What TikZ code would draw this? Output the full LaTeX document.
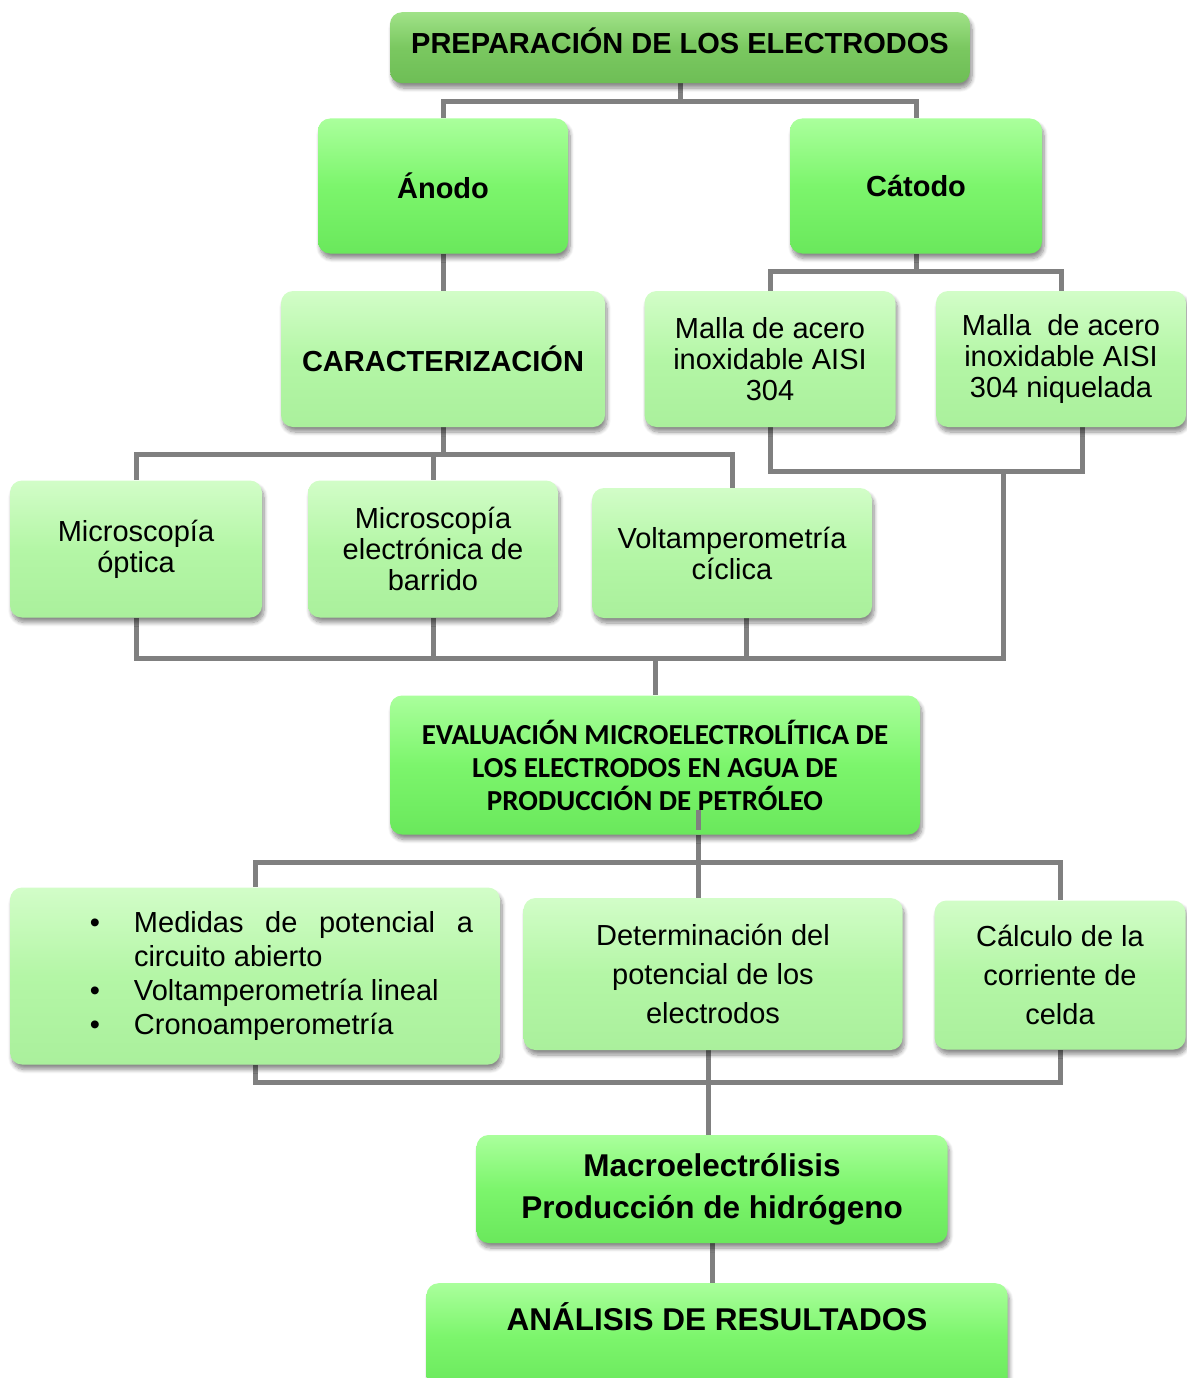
\documentclass[tikz,border=0pt]{standalone}
\usepackage{fontspec}
\setmainfont{Liberation Sans}
\newfontfamily\calibri{Carlito}
\usetikzlibrary{shadows.blur,backgrounds}

\definecolor{darktop}{RGB}{160,226,136}
\definecolor{darkmid}{RGB}{122,200,96}
\definecolor{darkbot}{RGB}{110,190,86}
\definecolor{brighttop}{RGB}{170,255,156}
\definecolor{brightmid}{RGB}{124,245,108}
\definecolor{brightbot}{RGB}{106,232,92}
\definecolor{lighttop}{RGB}{210,253,200}
\definecolor{lightmid}{RGB}{180,246,166}
\definecolor{lightbot}{RGB}{170,240,156}
\definecolor{linkgray}{RGB}{128,128,128}

\begin{document}
\begin{tikzpicture}[x=1pt,y=-1pt]
\tikzstyle{every node}+=[inner sep=8pt]
\tikzstyle{box}=[rounded corners=12pt, align=center,
  blur shadow={shadow xshift=2pt, shadow yshift=-5pt, shadow blur steps=8, shadow blur radius=4pt, shadow opacity=45}]
\tikzstyle{dark}=[box, top color=darktop, bottom color=darkbot, middle color=darkmid]
\tikzstyle{bright}=[box, top color=brighttop, bottom color=brightbot, middle color=brightmid]
\tikzstyle{light}=[box, top color=lighttop, bottom color=lightbot, middle color=lightmid]
\tikzstyle{bold}=[font=\bfseries\fontsize{29}{33}\selectfont]
\tikzstyle{plain}=[font=\fontsize{29}{31}\selectfont]
\tikzstyle{loose}=[font=\fontsize{29}{39}\selectfont]
\tikzstyle{link}=[draw=linkgray, line width=5pt]
\useasboundingbox (0,0) rectangle (1186,1378);

\node[dark, bold, minimum width=580, text height=37pt, text depth=26pt, inner sep=4pt, anchor=north] (prep) at (680,12) {PREPARACIÓN DE LOS ELECTRODOS};
\node[bright, bold, minimum width=250, minimum height=135] (anodo) at (443,186) {Ánodo};
\node[bright, bold, minimum width=252, minimum height=135] (catodo) at (916,186) {Cátodo};
\node[light, bold, minimum width=324, minimum height=136] (caract) at (443,359) {CARACTERIZACIÓN};
\node[light, plain, minimum width=251, minimum height=136] (malla1) at (770,359) {Malla de acero\\inoxidable AISI\\304};
\node[light, plain, minimum width=250, minimum height=136] (malla2) at (1061,359) {Malla~ de acero\\inoxidable AISI\\304 niquelada};
\node[light, plain, minimum width=252, minimum height=137] (optica) at (136,549) {Microscopía\\óptica};
\node[light, plain, minimum width=250, minimum height=137] (barrido) at (433,549) {Microscopía\\electrónica de\\barrido};
\node[light, plain, minimum width=280, minimum height=130] (ciclica) at (732,553) {Voltamperometría\\cíclica};
\node[bright, font=\calibri\bfseries\fontsize{29}{33}\selectfont, minimum width=530, minimum height=139] (eval) at (655,765)
  {EVALUACIÓN MICROELECTROLÍTICA DE\\LOS ELECTRODOS EN AGUA DE\\PRODUCCIÓN DE PETRÓLEO};
\node[light, font=\fontsize{29}{34}\selectfont, text width=474, align=justify, minimum height=177] (medidas) at (255,976)
  {\leftskip=116pt \rightskip=19pt \hyphenpenalty=10000 \parskip=0pt
   \noindent\llap{\textbullet\hspace{34pt}}Medidas de potencial a circuito abierto\par
   \noindent\llap{\textbullet\hspace{34pt}}Voltamperometría lineal\par
   \noindent\llap{\textbullet\hspace{34pt}}Cronoamperometría\par};
\node[light, loose, minimum width=379, minimum height=152] (determ) at (713,974) {Determinación del\\potencial de los\\electrodos};
\node[light, loose, minimum width=251, minimum height=149] (calculo) at (1060,975) {Cálculo de la\\corriente de\\celda};
\node[bright, font=\bfseries\fontsize{31.5}{42}\selectfont, minimum width=471, minimum height=108] (macro) at (712,1189)
  {Macroelectrólisis\\Producción de hidrógeno};
\node[bright, font=\bfseries\fontsize{31.5}{36}\selectfont, minimum width=581, text height=43pt, text depth=56pt, inner sep=4pt, anchor=north] (analisis) at (717,1283)
  {ANÁLISIS DE RESULTADOS};

\coordinate (mallas) at (1003,472);
\coordinate (juntos) at (655,658);
\coordinate (reparto) at (698,862);
\coordinate (recoge) at (708,1082);
\draw[link] (reparto |- eval.south) ++(0,-25) -- ++(0,20);

\begin{scope}[on background layer]
\draw[link] (prep.south) -- ++(0,18) -| (anodo.north);
\draw[link] (prep.south) ++(0,18) -| (catodo.north);
\draw[link] (anodo.south) -- (caract.north);
\draw[link] (catodo.south) -- ++(0,18) -| (malla1.north);
\draw[link] (catodo.south) ++(0,18) -| (malla2.north);
\draw[link] (caract.south) -- ++(0,27) -| (optica.north);
\draw[link] (caract.south) ++(0,27) -| (barrido.north);
\draw[link] (caract.south) ++(0,27) -| (ciclica.north);
\draw[link] (malla1.south) -- ++(0,44) -| ([xshift=21pt]malla2.south);
\draw[link] (mallas) |- (juntos);
\draw[link] (optica.south) |- (juntos);
\draw[link] (barrido.south) |- (juntos);
\draw[link] ([xshift=14pt]ciclica.south) |- (juntos);
\draw[link] (juntos) -- (eval.north);
\draw[link] (eval.south -| reparto) -- (reparto);
\draw[link] (reparto) -| (medidas.north);
\draw[link] (reparto) -| (calculo.north);
\draw[link] (reparto) -- (reparto |- determ.north);
\draw[link] (medidas.south) |- (recoge) -| (calculo.south);
\draw[link] (recoge |- determ.south) -- (recoge |- macro.north);
\draw[link] (macro.south) -- (macro.south |- analisis.north);
\end{scope}
\end{tikzpicture}
\end{document}
